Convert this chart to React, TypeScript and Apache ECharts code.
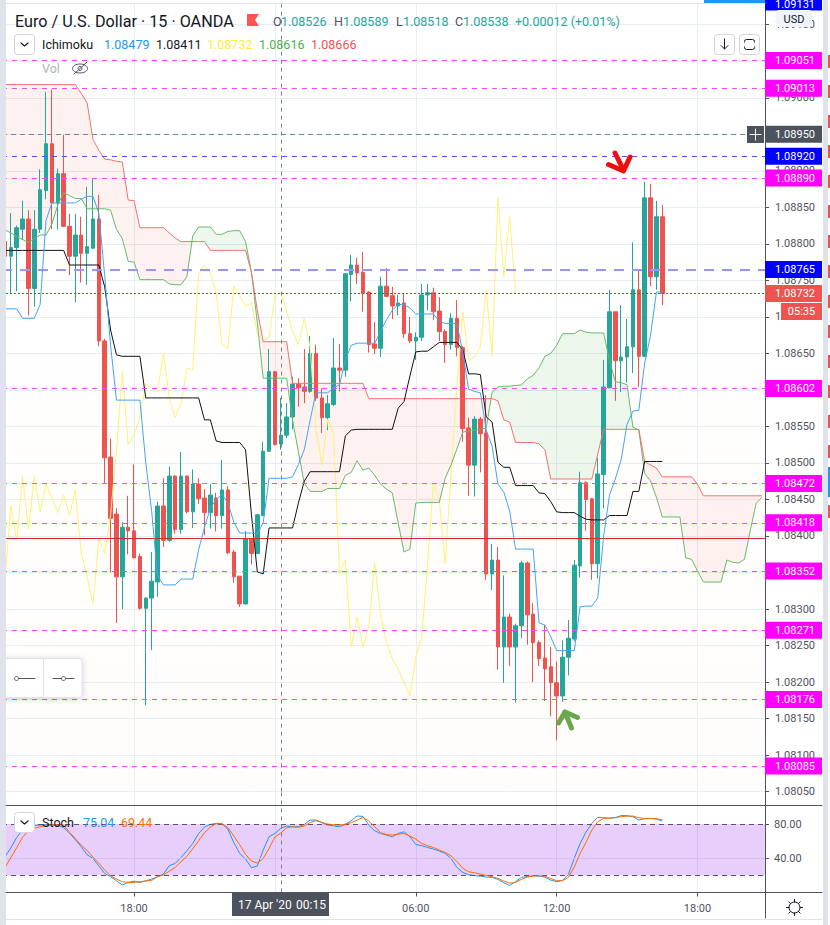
import React, { useEffect, useRef } from "react";
import * as echarts from "echarts";

const categories: string[] = Array.from({ length: 130 }, (_, i) => {
  const m = (12 * 60 + 30 + i * 15) % 1440;
  return String(Math.floor(m / 60)).padStart(2, "0") + ":" + String(m % 60).padStart(2, "0");
});
const gridIndexes = [22, 46, 70, 94, 118];
const labelIndexes = [22, 70, 94, 118];
const crosshairIndex = 47;

const opens = [1.08803,1.08783,1.08795,1.0882,1.08834,1.08739,1.0882,1.08873,1.08937,1.08856,1.08896,1.08824,1.08783,1.08812,1.08787,1.08794,1.08834,1.08667,1.08508,1.0843,1.08344,1.08412,1.08407,1.08372,1.08301,1.08315,1.08337,1.08441,1.08394,1.08482,1.08409,1.08482,1.08433,1.08471,1.08452,1.08432,1.08452,1.08428,1.08463,1.08378,1.08345,1.08307,1.08396,1.08376,1.08428,1.08516,1.08625,1.08526,1.08538,1.08563,1.08608,1.08604,1.08598,1.0865,1.08589,1.08562,1.0858,1.0863,1.08627,1.08758,1.08771,1.08761,1.08734,1.08663,1.08657,1.08742,1.08729,1.08715,1.08719,1.08677,1.08667,1.08672,1.0873,1.08733,1.08708,1.0868,1.08662,1.08698,1.08658,1.08548,1.08497,1.0856,1.08541,1.08348,1.08367,1.08248,1.08289,1.08248,1.08277,1.08363,1.08293,1.08254,1.08233,1.08221,1.08199,1.08181,1.08234,1.08259,1.08359,1.08473,1.08451,1.08362,1.08484,1.08603,1.08707,1.0864,1.08645,1.08659,1.08737,1.08646,1.08863,1.08755,1.08837];
const closes = [1.08783,1.08795,1.08822,1.08834,1.08739,1.0882,1.08874,1.08937,1.08856,1.08896,1.08824,1.08783,1.08812,1.08787,1.08796,1.08834,1.08667,1.08507,1.08424,1.08344,1.08412,1.08407,1.0837,1.08301,1.08315,1.08338,1.08441,1.08394,1.08482,1.08409,1.08482,1.08433,1.08471,1.08451,1.08432,1.08456,1.08428,1.08463,1.08377,1.08344,1.08307,1.08396,1.08376,1.08429,1.08516,1.08625,1.08525,1.08538,1.08563,1.08608,1.08603,1.08598,1.0865,1.08589,1.08562,1.08581,1.0863,1.08627,1.08759,1.08771,1.0876,1.08732,1.08662,1.08657,1.08742,1.08728,1.08715,1.08719,1.08677,1.08667,1.08672,1.0873,1.08733,1.08707,1.0868,1.08662,1.08698,1.08658,1.08547,1.08497,1.0856,1.0854,1.08348,1.08367,1.08248,1.08289,1.08248,1.08277,1.08363,1.08292,1.08254,1.08232,1.08218,1.08199,1.08181,1.08234,1.0826,1.0836,1.08473,1.0845,1.08362,1.08485,1.08604,1.08707,1.0864,1.08645,1.08659,1.08737,1.08646,1.08863,1.08755,1.08837,1.08732];
const lows = [1.08775,1.08733,1.08735,1.08805,1.08702,1.08714,1.08815,1.08861,1.0882,1.0882,1.08823,1.08757,1.0872,1.08747,1.08744,1.08793,1.0866,1.08472,1.0835,1.08281,1.083,1.08375,1.0837,1.08299,1.08168,1.08244,1.08317,1.08385,1.08392,1.08403,1.08403,1.08431,1.08411,1.08444,1.08401,1.0841,1.08406,1.0841,1.08375,1.08336,1.08303,1.08306,1.08361,1.08375,1.08427,1.08515,1.08524,1.08518,1.08534,1.08546,1.08577,1.08582,1.08596,1.08585,1.08541,1.08545,1.08578,1.08598,1.08618,1.08721,1.08745,1.08707,1.08651,1.08649,1.08645,1.08727,1.08697,1.08702,1.08671,1.08664,1.08641,1.08667,1.08709,1.08696,1.08667,1.08637,1.08655,1.08646,1.08529,1.08455,1.08454,1.08487,1.0834,1.08326,1.08217,1.08199,1.08222,1.08172,1.0826,1.08251,1.082,1.08222,1.08174,1.08153,1.0812,1.08173,1.08209,1.08256,1.08343,1.08407,1.0834,1.08342,1.08438,1.08602,1.08585,1.08597,1.0861,1.08623,1.08604,1.08645,1.08742,1.08737,1.08716];
const highs = [1.0881,1.08842,1.08825,1.08859,1.08846,1.08846,1.08902,1.09008,1.09011,1.08903,1.08949,1.08841,1.08841,1.08837,1.08878,1.08889,1.08867,1.0867,1.08533,1.08438,1.08419,1.08455,1.08498,1.08376,1.08316,1.08378,1.08447,1.08479,1.08495,1.08483,1.08515,1.08483,1.08491,1.08479,1.08464,1.08471,1.08459,1.08504,1.08468,1.08381,1.08345,1.08407,1.08397,1.0843,1.08529,1.08656,1.08626,1.08589,1.08582,1.08618,1.08616,1.08656,1.08674,1.08662,1.08602,1.08593,1.08671,1.08663,1.0876,1.08785,1.08781,1.08789,1.08735,1.08693,1.08755,1.08767,1.08741,1.0873,1.08733,1.087,1.08679,1.08745,1.08745,1.0874,1.08727,1.08683,1.08705,1.08723,1.0866,1.08562,1.08564,1.08563,1.08593,1.08389,1.08385,1.08346,1.08294,1.0828,1.08366,1.08365,1.08308,1.08257,1.08278,1.08248,1.08228,1.08257,1.08285,1.08367,1.08488,1.08475,1.08452,1.08507,1.08641,1.08737,1.08707,1.08716,1.08697,1.08802,1.08765,1.08885,1.08882,1.08859,1.08853];

const conversionLine = [1.08711,1.08711,1.08711,1.08698,1.08698,1.08698,1.08717,1.08832,1.08856,1.08856,1.08856,1.08856,1.08856,1.08861,1.08865,1.08865,1.08842,1.08756,1.08661,1.08586,1.08586,1.08586,1.08586,1.08586,1.085,1.08434,1.08345,1.08333,1.08333,1.08333,1.08341,1.08341,1.08341,1.08381,1.08412,1.08438,1.0845,1.08457,1.08445,1.08419,1.08404,1.08404,1.08404,1.08403,1.08418,1.08479,1.08479,1.08479,1.08479,1.08481,1.08498,1.08518,1.08559,1.08596,1.08596,1.08596,1.08603,1.08607,1.08641,1.08661,1.08664,1.08664,1.08664,1.08664,1.0868,1.08696,1.08709,1.08717,1.08717,1.08712,1.08704,1.08704,1.08704,1.08704,1.08694,1.08691,1.08691,1.08691,1.08652,1.08601,1.08598,1.08596,1.08545,1.08523,1.08471,1.0846,1.08434,1.08382,1.08382,1.08382,1.08382,1.08281,1.08278,1.08262,1.08243,1.08243,1.08243,1.08243,1.08303,1.08304,1.08304,1.08315,1.08399,1.08456,1.08478,1.08505,1.08553,1.08571,1.08572,1.08637,1.08675,1.08734,1.08734];
const baseLine = [1.08791,1.08791,1.08791,1.08791,1.08791,1.08791,1.08791,1.08791,1.08791,1.08791,1.08791,1.08771,1.08771,1.08771,1.08771,1.08771,1.08771,1.08741,1.08682,1.08648,1.08646,1.08646,1.08646,1.08646,1.08589,1.08589,1.08589,1.08589,1.08589,1.08589,1.08589,1.08589,1.08589,1.08589,1.08559,1.08559,1.0853,1.08528,1.08528,1.08528,1.08528,1.08518,1.08429,1.08351,1.08348,1.08411,1.08411,1.08411,1.08411,1.08411,1.08445,1.08475,1.08488,1.08488,1.08488,1.08488,1.08488,1.08488,1.08537,1.08545,1.08546,1.08546,1.08546,1.08546,1.08546,1.08546,1.08546,1.08575,1.08584,1.08619,1.08652,1.08653,1.08653,1.08659,1.08665,1.08665,1.08665,1.08665,1.08655,1.08622,1.08622,1.08621,1.08563,1.08556,1.08501,1.08494,1.08494,1.08469,1.08469,1.08469,1.08469,1.08459,1.08458,1.08447,1.08433,1.08432,1.08432,1.08432,1.08427,1.08423,1.08422,1.08422,1.08422,1.08428,1.08428,1.08428,1.08428,1.08461,1.08461,1.08502,1.08502,1.08502,1.08502];
const laggingLine = [1.08338,1.08441,1.08394,1.08482,1.08409,1.08482,1.08433,1.08471,1.08451,1.08432,1.08456,1.08428,1.08463,1.08377,1.08344,1.08307,1.08396,1.08376,1.08429,1.08516,1.08625,1.08525,1.08538,1.08563,1.08608,1.08603,1.08598,1.0865,1.08589,1.08562,1.08581,1.0863,1.08627,1.08759,1.08771,1.0876,1.08732,1.08662,1.08657,1.08742,1.08728,1.08715,1.08719,1.08677,1.08667,1.08672,1.0873,1.08733,1.08707,1.0868,1.08662,1.08698,1.08658,1.08547,1.08497,1.0856,1.0854,1.08348,1.08367,1.08248,1.08289,1.08248,1.08277,1.08363,1.08292,1.08254,1.08232,1.08218,1.08199,1.08181,1.08234,1.0826,1.0836,1.08473,1.0845,1.08362,1.08485,1.08604,1.08707,1.0864,1.08645,1.08659,1.08737,1.08646,1.08863,1.08755,1.08837,1.08732];
const senkouA = [1.08819,1.08815,1.0881,1.08806,1.08802,1.08807,1.08812,1.08812,1.08827,1.08853,1.0887,1.08866,1.08862,1.08862,1.08848,1.08848,1.08848,1.08848,1.08846,1.0882,1.08807,1.08776,1.08775,1.08751,1.08751,1.08751,1.08751,1.08751,1.08745,1.08744,1.08744,1.08755,1.08811,1.08823,1.08823,1.08823,1.08813,1.08813,1.08817,1.08818,1.08818,1.08803,1.08761,1.08692,1.08616,1.08616,1.08616,1.08616,1.08616,1.08559,1.08515,1.08472,1.08461,1.08461,1.08461,1.08465,1.08465,1.08465,1.08483,1.08487,1.08503,1.0849,1.08493,1.08483,1.08471,1.08464,1.08459,1.08418,1.08378,1.08382,1.08445,1.08446,1.08446,1.08446,1.08446,1.08479,1.08497,1.08519,1.08542,1.08544,1.08545,1.08546,1.08548,1.08597,1.08604,1.08605,1.08605,1.08606,1.08607,1.08615,1.0862,1.0863,1.08646,1.0865,1.08661,1.08677,1.08677,1.08677,1.08682,1.08679,1.08678,1.08678,1.08678,1.08641,1.08611,1.0861,1.08607,1.08549,1.08545,1.08486,1.08475,1.08453,1.08426,1.08426,1.08426,1.08426,1.0837,1.08368,1.08352,1.08337,1.08337,1.08337,1.08337,1.08367,1.08364,1.08363,1.08368,1.08408,1.08445,1.08453];
const senkouB = [1.09018,1.09018,1.09018,1.09018,1.09018,1.09018,1.09018,1.09018,1.09018,1.09018,1.09018,1.09018,1.09018,1.09006,1.08993,1.08943,1.08928,1.08916,1.08915,1.08913,1.08912,1.0886,1.08859,1.08822,1.08822,1.08822,1.08822,1.08822,1.08815,1.08808,1.08803,1.08803,1.08803,1.08803,1.08803,1.08791,1.08791,1.08791,1.08791,1.08791,1.08791,1.08791,1.08761,1.08709,1.08666,1.08666,1.08666,1.08666,1.08666,1.08609,1.08609,1.08609,1.08609,1.08609,1.08609,1.08609,1.08609,1.08609,1.08609,1.08609,1.08609,1.08609,1.08588,1.08588,1.08588,1.08588,1.08588,1.08588,1.08588,1.08588,1.08588,1.08588,1.08588,1.08588,1.08588,1.08588,1.08588,1.08588,1.08588,1.08588,1.08588,1.08588,1.08588,1.08588,1.08585,1.08559,1.08556,1.08528,1.08528,1.08528,1.08528,1.08526,1.08518,1.08478,1.08478,1.08478,1.08478,1.08478,1.08478,1.08478,1.08478,1.08512,1.08546,1.08546,1.08546,1.08546,1.08546,1.08546,1.08546,1.08502,1.08497,1.08493,1.08481,1.08481,1.08481,1.08481,1.08481,1.08481,1.08471,1.08455,1.08455,1.08455,1.08455,1.08455,1.08455,1.08455,1.08455,1.08455,1.08455,1.08455];

const stochK = [41.8,52,64.4,73,76.9,78.4,78.9,79.2,78.8,78.4,76,69.5,61.7,53.5,44.2,39.9,31,22.3,18.4,13.8,8.7,11.8,13.3,11.8,13.7,15.7,18.4,21.6,31.3,34,41,48.8,57.4,69,76.5,79.6,80.8,80.4,73.8,58.2,45.7,39,29,30.9,49.6,65.2,69,75.04,77.7,76.9,76.9,79.6,84.7,84.7,81.6,78.8,78,76.9,79.6,83.9,89.4,89,78.8,72.2,69,67.1,65.2,69,71,65.2,56.2,54.7,52.7,50.8,48.5,45.7,39.9,29.4,23.5,20.8,19.6,19.2,18.1,17.7,15.3,11.4,8.3,12.6,17.7,18.8,19.6,19.2,18,14.5,12.6,14.2,21.2,39.9,57.4,70.6,80.8,87.8,87.4,87,87.4,90.1,89.8,88.6,84.7,86.2,86.6,85.9,83.5];
const stochD = [29.3,40.6,52.3,64.4,72.2,74.9,76.9,78.4,79.2,79.2,78.8,70.6,62.9,55.4,49.2,41.4,34.4,26.2,19.6,15.7,12.6,11.8,11.8,12.6,13.4,14.2,18.4,20.4,25,29.3,36,42.2,51.2,60.5,69.9,76.5,80.4,80.4,75.8,66,55.8,44.5,36.7,34.4,39.8,51.5,65,69.44,75.7,76.9,76.1,77.7,81.9,83.9,82,80,79.2,78.8,80,81.6,84.7,87.8,83.5,76.9,69.9,67.9,67.1,68.3,69,66,62.4,57.4,54.7,52.7,49.6,46.9,42.9,36.3,28.5,24.3,23.1,21.5,20,18.4,16.5,13.4,11,11.8,15.3,18,19.2,19.6,18.8,16.5,13.8,13.8,17.7,29.7,45.7,58.5,73,82.7,86.7,87,87.8,88.6,89.4,89.4,87.4,86.6,86.6,86.2,85];

const magentaLevels = [1.09051, 1.09013, 1.0889, 1.08602, 1.08472, 1.08418, 1.08352, 1.08271, 1.08176, 1.08085];
const blueLevel = 1.0892;
const wideBlueLevel = 1.08765;
const lastPrice = 1.08732;
const crosshairPrice = 1.0895;
const redLevel = 1.08397;

const FONT = "Roboto";
const AXIS = "#50535e";
const GRID = "#e6edf3";
const UP = "#26a69a";
const DOWN = "#ef5350";

const tag = (value: number, bg: string) => ({
  show: true,
  position: "end",
  distance: 0,
  formatter: value.toFixed(5),
  color: "#fff",
  backgroundColor: bg,
  fontFamily: FONT,
  fontSize: 11,
  lineHeight: 11,
  width: 47,
  padding: [3, 0, 3, 10],
  align: "left",
});

const T = (x: number, y: number, text: string, fill: string, size = 12.5, align = "left") => ({
  type: "text",
  x,
  y,
  z: 30,
  silent: true,
  style: { text, fill, font: `${size}px ${FONT}`, verticalAlign: "middle", align },
});
const L = (x1: number, y1: number, x2: number, y2: number, stroke: string, lineWidth = 1) => ({
  type: "line",
  z: 29,
  silent: true,
  shape: { x1, y1, x2, y2 },
  style: { stroke, lineWidth, lineCap: "round" },
});
const R = (x: number, y: number, width: number, height: number, fill: string, stroke?: string, r = 0) => ({
  type: "rect",
  z: 28,
  silent: true,
  shape: { x, y, width, height, r },
  style: { fill, stroke, lineWidth: stroke ? 1 : 0 },
});
const P = (points: number[][], stroke: string, lineWidth = 1) => ({
  type: "polyline",
  z: 29,
  silent: true,
  shape: { points },
  style: { stroke, lineWidth, fill: "none", lineCap: "round", lineJoin: "round" },
});

const stripPeriods = [55, 85, 115, 145, 175, 205, 235, 265, 295, 325, 355, 385, 415, 445, 505];

function overlays(): any[] {
  const g: any[] = [];
  g.push(R(0, 0, 6, 925, "#e0e3eb"));
  g.push(R(823, 0, 5, 925, "#e0e3eb"));
  g.push(R(6, 0, 698, 3, "#ffffff"));
  g.push(R(704, 0, 118, 3, "#2196f3"));
  g.push(L(6, 3.5, 765, 3.5, "#e0e3eb"));
  g.push(R(765, 0, 57, 10.6, "#0000ff"));
  g.push(T(775, 4, "1.09131", "#ffffff", 11));
  stripPeriods.forEach((y) => g.push(R(828, y, 2, 13, "#ef5350")));
  g.push(R(828, 467, 2, 30, "#2196f3"));
  g.push(L(6, 805.5, 822, 805.5, AXIS));
  g.push(L(6, 892.5, 822, 892.5, AXIS));
  g.push(L(765.5, 892, 765.5, 918, AXIS));
  g.push(L(6, 919.5, 822, 919.5, "#e0e3eb"));
  g.push(T(15, 21, "Euro / U.S. Dollar · 15 · OANDA", "#131722", 16.2));
  g.push({ type: "polygon", z: 29, silent: true, shape: { points: [[247, 14], [259, 14], [255, 20], [259, 26], [247, 26]] }, style: { fill: "#ff5252" } });
  [["O", 273, "1.08526", 281], ["H", 334, "1.08589", 343], ["L", 396, "1.08518", 403], ["C", 455, "1.08538", 463]].forEach(([k, x1, v, x2]: any) => {
    g.push(T(x1, 21, k, AXIS));
    g.push(T(x2, 21, v, UP));
  });
  g.push(T(515, 21, "+0.00012 (+0.01%)", UP));
  g.push(R(14.5, 34.5, 20, 20, "#ffffff", "#d1d4dc", 3));
  g.push(P([[21, 43], [24.5, 46], [28, 43]], "#131722", 1.2));
  g.push(T(42, 44.5, "Ichimoku", "#131722"));
  g.push(T(104, 44.5, "1.08479", "#2196f3"));
  g.push(T(156, 44.5, "1.08411", "#131722"));
  g.push(T(207, 44.5, "1.08732", "#ffeb3b"));
  g.push(T(259, 44.5, "1.08616", "#4caf50"));
  g.push(T(311, 44.5, "1.08666", "#ef5350"));
  g.push(T(42, 68, "Vol", "#b2b5be"));
  g.push({ type: "ellipse", z: 29, silent: true, shape: { cx: 80, cy: 68.5, rx: 7.5, ry: 4.5 }, style: { fill: "none", stroke: "#50535e", lineWidth: 1 } });
  g.push({ type: "circle", z: 29, silent: true, shape: { cx: 80, cy: 68.5, r: 2 }, style: { fill: "none", stroke: "#50535e", lineWidth: 1 } });
  g.push(L(74, 74, 87, 62, "#50535e"));
  g.push(R(714.5, 34.5, 20, 20, "#ffffff", "#d1d4dc", 3));
  g.push(L(724.5, 39, 724.5, 49, "#131722"));
  g.push(P([[721, 45.5], [724.5, 49], [728, 45.5]], "#131722"));
  g.push(R(739.5, 34.5, 20, 20, "#ffffff", "#d1d4dc", 3));
  g.push(R(744.5, 39.5, 10, 10, "none", "#131722", 2));
  g.push(L(744, 44.5, 755, 44.5, "#ffffff", 4));
  g.push(R(776, 10, 36, 17, "#f0f3fa", undefined, 3));
  g.push(T(794, 19, "USD", "#131722", 11, "center"));
  g.push(R(747, 126, 17, 17, "#4c525e"));
  g.push(L(750, 134.5, 761, 134.5, "#ffffff"));
  g.push(L(755.5, 129, 755.5, 140, "#ffffff"));
  g.push(R(781, 303, 41, 17, DOWN));
  g.push(T(801.5, 311.5, "05:35", "#ffffff", 11, "center"));
  g.push(R(232, 893, 97, 23, "#4c525e"));
  g.push(T(238, 905, "17 Apr '20", "#ffffff", 12));
  g.push(T(296, 905, "00:15", "#ffffff", 12));
  g.push({ type: "rect", z: 27, silent: true, shape: { x: -6, y: 658.5, width: 88, height: 39, r: 3 }, style: { fill: "#ffffff", stroke: "#e0e3eb", lineWidth: 1, shadowBlur: 6, shadowColor: "rgba(0,0,0,0.18)", shadowOffsetY: 1 } });
  g.push(L(43.5, 659, 43.5, 697, "#e0e3eb"));
  g.push(L(18, 678.5, 35, 678.5, AXIS));
  g.push({ type: "circle", z: 29, silent: true, shape: { cx: 16.5, cy: 678.5, r: 2 }, style: { fill: "#fff", stroke: AXIS, lineWidth: 1 } });
  g.push(L(53, 678.5, 74, 678.5, AXIS));
  g.push({ type: "circle", z: 29, silent: true, shape: { cx: 63.5, cy: 678.5, r: 2 }, style: { fill: "#fff", stroke: AXIS, lineWidth: 1 } });
  g.push(P([[608.5, 164.5], [623.5, 171], [630, 157]], "#f20d0d", 5));
  g.push(L(615, 153, 623.5, 170, "#f20d0d", 5));
  g.push(P([[558.5, 723], [565, 712], [577.5, 717.5]], "#6aa84f", 5));
  g.push(L(565, 712, 571.5, 728, "#6aa84f", 5));
  g.push(R(14.5, 812.5, 20, 20, "#ffffff", "#d1d4dc", 3));
  g.push(P([[21, 821], [24.5, 824], [28, 821]], "#131722", 1.2));
  g.push(T(42, 822.5, "Stoch", "#131722"));
  g.push(T(83, 822.5, "75.04", "#2196f3"));
  g.push(T(121, 822.5, "69.44", "#ff6d00"));
  g.push({ type: "circle", z: 29, silent: true, shape: { cx: 794.5, cy: 907.5, r: 5.5 }, style: { fill: "#fff", stroke: "#131722", lineWidth: 1 } });
  [[794.5, 899.5, 794.5, 902], [794.5, 913, 794.5, 915.5], [786.5, 907.5, 789, 907.5], [800, 907.5, 802.5, 907.5], [788.8, 901.8, 790.6, 903.6], [798.4, 911.4, 800.2, 913.2], [788.8, 913.2, 790.6, 911.4], [798.4, 903.6, 800.2, 901.8]].forEach(([a, b, c, d]) => g.push(L(a, b, c, d, "#131722")));
  return g;
}

const renderCloud = (params: any, api: any) => {
  const i = api.value(0);
  if (i >= senkouA.length - 1) return null;
  const a0 = senkouA[i], b0 = senkouB[i], a1 = senkouA[i + 1], b1 = senkouB[i + 1];
  const pink = "rgba(239,83,80,0.08)";
  const green = "rgba(76,175,80,0.1)";
  const poly = (pts: number[][], fill: string) => ({
    type: "polygon",
    silent: true,
    shape: { points: pts.map((p) => api.coord(p)) },
    style: { fill },
  });
  const d0 = a0 - b0, d1 = a1 - b1;
  if (d0 * d1 >= 0) {
    return poly([[i, a0], [i + 1, a1], [i + 1, b1], [i, b0]], d0 + d1 > 0 ? green : pink);
  }
  const t = d0 / (d0 - d1);
  const xc = i + t, yc = a0 + (a1 - a0) * t;
  return {
    type: "group",
    children: [
      poly([[i, a0], [xc, yc], [i, b0]], d0 > 0 ? green : pink),
      poly([[xc, yc], [i + 1, a1], [i + 1, b1]], d1 > 0 ? green : pink),
    ],
  };
};

const line = (name: string, data: number[], color: string, z = 4, width = 1) => ({
  name,
  type: "line",
  data,
  xAxisIndex: 0,
  yAxisIndex: 0,
  symbol: "none",
  z,
  silent: true,
  lineStyle: { color, width },
});

export default function App() {
  const ref = useRef<HTMLDivElement>(null);
  useEffect(() => {
    const chart = echarts.init(ref.current!, undefined, { renderer: "svg" });
    const levelData: any[] = [
      ...magentaLevels.map((v) => ({
        yAxis: v,
        lineStyle: { color: "#ff40ff", type: [5, 5], width: 1 },
        label: tag(v, "#ff00ff"),
      })),
      { yAxis: blueLevel, lineStyle: { color: "#5050ff", type: [5, 5], width: 1 }, label: tag(blueLevel, "#0000ff") },
      { yAxis: wideBlueLevel, lineStyle: { color: "#9b95fa", type: [10, 8], width: 2 }, label: tag(wideBlueLevel, "#0000ff") },
      { yAxis: lastPrice, lineStyle: { color: "#d32f2f", type: [2, 2], width: 1 }, label: tag(lastPrice, DOWN) },
      { yAxis: crosshairPrice, lineStyle: { color: "#758696", type: [5, 4], width: 1 }, label: tag(crosshairPrice, "#4c525e") },
      { yAxis: redLevel, lineStyle: { color: "#cf2a2a", type: "solid", width: 1 }, label: { show: false } },
      { xAxis: crosshairIndex, lineStyle: { color: "#758696", type: [4, 4], width: 1 }, label: { show: false } },
    ];
    const option: any = {
      animation: false,
      backgroundColor: "#ffffff",
      textStyle: { fontFamily: FONT },
      grid: [
        {
          left: 2, width: 763, top: -11.8, height: 803.4, show: true, borderWidth: 0, outerBoundsMode: "none",
          backgroundColor: { type: "linear", x: 0, y: 0, x2: 0, y2: 1, colorStops: [{ offset: 0.3, color: "#ffffff" }, { offset: 1, color: "#fffdfb" }] },
        },
        { left: 2, width: 763, top: 791.6, height: 100.9, outerBoundsMode: "none" },
      ],
      xAxis: [0, 1].map((idx) => ({
        type: "category",
        gridIndex: idx,
        data: categories,
        boundaryGap: true,
        axisLine: { show: idx === 1, lineStyle: { color: AXIS } },
        axisTick: {
          show: idx === 1,
          alignWithLabel: true,
          length: 4,
          interval: (i: number) => gridIndexes.includes(i),
          lineStyle: { color: AXIS },
        },
        axisLabel: {
          show: idx === 1,
          margin: 10,
          color: AXIS,
          fontFamily: FONT,
          fontSize: 11,
          interval: (i: number) => labelIndexes.includes(i),
        },
        splitLine: {
          show: true,
          alignWithLabel: true,
          interval: (i: number) => gridIndexes.includes(i),
          lineStyle: { color: GRID, width: 1 },
        },
      })),
      yAxis: [
        {
          type: "value",
          gridIndex: 0,
          position: "right",
          min: 1.0805,
          max: 1.0915,
          interval: 0.0005,
          axisLine: { show: true, lineStyle: { color: AXIS } },
          axisTick: { show: true, length: 4, lineStyle: { color: AXIS } },
          axisLabel: { margin: 10, color: AXIS, fontFamily: FONT, fontSize: 11, formatter: (v: number) => v.toFixed(5) },
          splitLine: { show: true, lineStyle: { color: GRID, width: 1 } },
        },
        {
          type: "value",
          gridIndex: 1,
          position: "right",
          min: 0,
          max: 118,
          interval: 40,
          axisLine: { show: true, lineStyle: { color: AXIS } },
          axisTick: { show: true, length: 4, lineStyle: { color: AXIS } },
          axisLabel: {
            margin: 9, color: AXIS, fontFamily: FONT, fontSize: 11, showMinLabel: false, showMaxLabel: false,
            formatter: (v: number) => v.toFixed(2),
          },
          splitLine: { show: false },
        },
      ],
      series: [
        {
          name: "Cloud",
          type: "custom",
          xAxisIndex: 0,
          yAxisIndex: 0,
          z: 1,
          silent: true,
          renderItem: renderCloud,
          encode: { x: 0, y: [1, 2] },
          data: senkouA.map((a, i) => [i, a, senkouB[i]]),
        },
        {
          name: "EURUSD",
          type: "candlestick",
          xAxisIndex: 0,
          yAxisIndex: 0,
          barWidth: 4,
          z: 3,
          silent: true,
          itemStyle: { color: UP, color0: DOWN, borderColor: UP, borderColor0: DOWN, borderWidth: 1 },
          data: opens.map((o, i) => [o, closes[i], lows[i], highs[i]]),
        },
        line("Lagging Span", laggingLine, "#fff176"),
        line("Leading Span A", senkouA, "#66bb6a"),
        line("Leading Span B", senkouB, "#f4706d"),
        line("Base Line", baseLine, "#111111"),
        {
          ...line("Conversion Line", conversionLine, "#42a5f5", 6),
          markLine: { silent: true, symbol: "none", animation: false, precision: 5, data: levelData },
        },
        {
          name: "%K",
          type: "line",
          xAxisIndex: 1,
          yAxisIndex: 1,
          data: stochK,
          symbol: "none",
          z: 4,
          silent: true,
          lineStyle: { color: "#2196f3", width: 1 },
          markArea: {
            silent: true,
            itemStyle: { color: "rgba(160,50,240,0.24)" },
            data: [[{ yAxis: 20 }, { yAxis: 80 }]],
          },
          markLine: {
            silent: true,
            symbol: "none",
            animation: false,
            label: { show: false },
            data: [
              { yAxis: 80, lineStyle: { color: "#5d5068", type: [5, 4], width: 1 } },
              { yAxis: 20, lineStyle: { color: "#5d5068", type: [5, 4], width: 1 } },
              { yAxis: 40, lineStyle: { color: "#d3c0f5", type: "solid", width: 1 } },
              { xAxis: crosshairIndex, lineStyle: { color: "#758696", type: [4, 4], width: 1 } },
            ],
          },
        },
        {
          name: "%D",
          type: "line",
          xAxisIndex: 1,
          yAxisIndex: 1,
          data: stochD,
          symbol: "none",
          z: 5,
          silent: true,
          lineStyle: { color: "#ff6d00", width: 1 },
        },
      ],
      graphic: { elements: overlays() },
    };
    chart.setOption(option);
    return () => chart.dispose();
  }, []);
  return <div ref={ref} style={{ position: "absolute", left: 0, top: 0, width: 830, height: 925 }} />;
}
